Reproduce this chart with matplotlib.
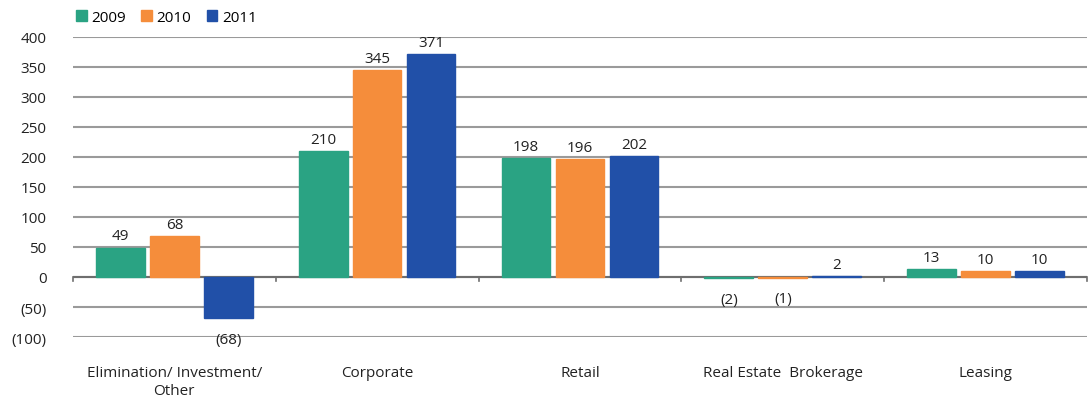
import matplotlib.pyplot as plt
import numpy as np

categories = ['Elimination/ Investment/\nOther', 'Corporate', 'Retail',
              'Real Estate  Brokerage', 'Leasing']
years = ['2009', '2010', '2011']
v2009 = [49, 210, 198, -2, 13]
v2010 = [68, 345, 196, -1, 10]
v2011 = [-68, 371, 202, 2, 10]
yticks = [400, 350, 300, 250, 200, 150, 100, 50, 0, -50, -100]

colors = ['#2aa383', '#f58d3b', '#2150a8']

plt.rcParams['font.family'] = ['Open Sans', 'DejaVu Sans']

fig = plt.figure(figsize=(10.92, 4.02), dpi=100)
ax = fig.add_axes([0.0668, 0.1592, 0.9286, 0.7463])

x = np.arange(len(categories)) + 0.5
step = 0.266
width = 0.24

for i, (vals, year) in enumerate(zip([v2009, v2010, v2011], years)):
    pos = x + (i - 1) * step
    ax.bar(pos, vals, width, color=colors[i], edgecolor=colors[i], linewidth=1.0,
           label=year, zorder=5)
    for p, v in zip(pos, vals):
        if v >= 0:
            ax.annotate(str(v), (p, v), xytext=(0, 3), textcoords='offset points',
                        ha='center', va='bottom', fontsize=11, color='#222222')
        else:
            ax.annotate('(%d)' % abs(v), (p, v), xytext=(0, -10), textcoords='offset points',
                        ha='center', va='top', fontsize=11, color='#222222')

ax.set_xlim(0, len(categories))
ax.set_ylim(-100, 400)
ax.set_yticks(yticks)
ax.set_yticklabels([str(t) if t >= 0 else '(%d)' % abs(t) for t in yticks],
                   fontsize=11, color='#222222')
ax.yaxis.grid(True, color='#9a9a9a', linewidth=1.5, zorder=0)
ax.tick_params(axis='y', length=0, pad=19)

# zero line with separators
ax.axhline(0, color='#6e6e6e', linewidth=1.5, zorder=4)
for b in range(len(categories) + 1):
    ax.plot([b, b], [0, -6], color='#6e6e6e', linewidth=1.2, zorder=4, clip_on=False)

ax.set_xticks(x)
ax.set_xticklabels([])
for xi, c in zip(x, categories):
    ax.text(xi, -146, c, ha='center', va='top', fontsize=11, color='#222222',
            linespacing=1.35)
ax.tick_params(axis='x', length=0)

for s in ax.spines.values():
    s.set_visible(False)

ax.legend(loc='lower left', bbox_to_anchor=(0.003, 1.04), ncol=3, frameon=False,
          fontsize=11, handlelength=0.7, handleheight=0.7, handletextpad=0.3,
          columnspacing=1.0, borderaxespad=0, borderpad=0)

fig.savefig('out.png', dpi=100)
